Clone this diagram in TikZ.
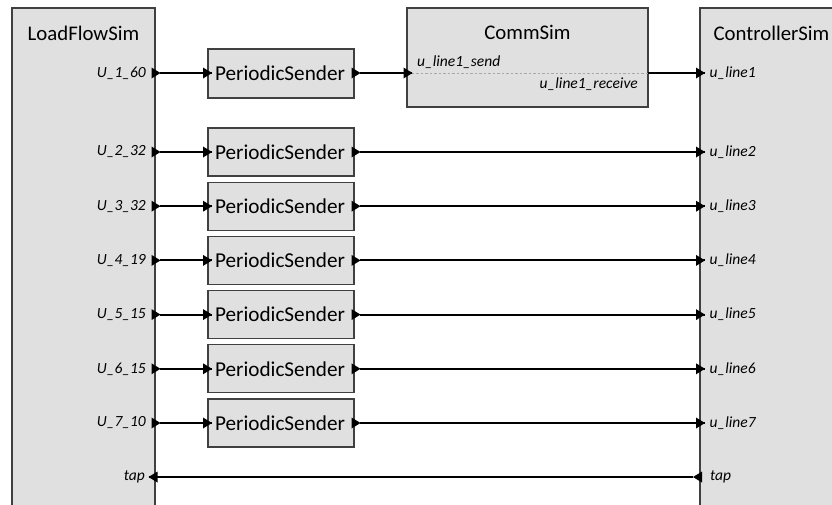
\documentclass[tikz,border=0pt]{standalone}
\usepackage{fontspec}
\setmainfont{Carlito}
\definecolor{boxfill}{HTML}{E0E0E0}
\definecolor{boxline}{HTML}{404040}
\definecolor{dashgray}{HTML}{A8A8A8}
\begin{document}
\begin{tikzpicture}[x=1pt,y=-1pt,
  box/.style={draw=boxline, fill=boxfill, line width=1.2pt, inner sep=0pt, outer sep=0pt, anchor=north west},
  ttl/.style={font=\fontsize{20.8}{24}\selectfont, inner sep=0pt},
  pstext/.style={font=\fontsize{21.2}{24}\selectfont},
  lbl/.style={font=\fontsize{15.5}{18}\selectfont\itshape, inner sep=0pt},
  wire/.style={line width=2pt},
  tri right/.pic={\fill (-4.5,-5.5) -- (4.5,0) -- (-4.5,5.5) -- cycle;},
  tri left/.pic={\fill (4.5,-5.5) -- (-4.5,0) -- (4.5,5.5) -- cycle;}]
\useasboundingbox (0,0) rectangle (832,504);
\begin{scope}
\clip (0,0) rectangle (832,504);
% main simulators
\node[box, minimum width=143pt, minimum height=520pt] (lf) at (12,8) {};
\node[ttl] (lft) at (83.5,33) {LoadFlowSim};
\node[box, minimum width=143pt, minimum height=520pt] (ctl) at (700,8) {};
\node[ttl] (ctlt) at (771.5,33) {ControllerSim};
% CommSim
\node[box, minimum width=241pt, minimum height=99pt] (cs) at (407,8) {};
\node[ttl] (cst) at (527.5,32) {CommSim};
\coordinate (csw) at (407,73);
\coordinate (cse) at (648,73);
\draw[dashgray, line width=0.9pt, dash pattern=on 2.5pt off 2pt] (csw) -- (cse);
\node[lbl, anchor=west] (csl1) at (417,62) {u\_line1\_send};
\node[lbl, anchor=east] (csl2) at (638,84) {u\_line1\_receive};
% row 1
\node[box, minimum width=146pt, minimum height=49pt, anchor=west] (ps1) at (208,73.5) {};
\node[pstext] (ps1t) at (280,73.5) {PeriodicSender};
\node[lbl, anchor=east] (lo1l) at (146,73) {U\_1\_60};
\node[lbl, anchor=west] (ci1l) at (709.5,73) {u\_line1};
\coordinate (lo1) at (160,73);
\coordinate (pi1) at (212,73);
\coordinate (po1) at (360,73);
\coordinate (csi) at (412,73);
\coordinate (ci1) at (705,73);
\draw[wire] (lo1) -- (pi1);
\draw[wire] (po1) -- (csi);
\draw[wire] (cse) -- (ci1);
\pic at (156,73) {tri right};
\pic at (207.5,73) {tri right};
\pic at (356,73) {tri right};
\pic at (408,73) {tri right};
\pic at (700.5,73) {tri right};
% rows 2-7
\foreach \n/\y/\a/\b in {2/152/U\_2\_32/u\_line2, 3/206.2/U\_3\_32/u\_line3, 4/260.4/U\_4\_19/u\_line4, 5/314.6/U\_5\_15/u\_line5, 6/368.8/U\_6\_15/u\_line6, 7/423/U\_7\_10/u\_line7}{
  \node[box, minimum width=146pt, minimum height=48pt, anchor=west] (ps\n) at (208,\y) {};
  \node[pstext] (ps\n t) at (280,\y) {PeriodicSender};
  \node[lbl, anchor=east] (lo\n l) at (146,\y) {\a};
  \node[lbl, anchor=west] (ci\n l) at (709.5,\y) {\b};
  \coordinate (lo\n) at (160,\y);
  \coordinate (pi\n) at (212,\y);
  \coordinate (po\n) at (360,\y);
  \coordinate (ci\n) at (705,\y);
  \draw[wire] (lo\n) -- (pi\n);
  \draw[wire] (po\n) -- (ci\n);
  \pic at (156,\y) {tri right};
  \pic at (207.5,\y) {tri right};
  \pic at (356,\y) {tri right};
  \pic at (700.5,\y) {tri right};
}
% tap
\node[lbl, anchor=east] (ltapl) at (145,477) {tap};
\node[lbl, anchor=west] (ctapl) at (710,477) {tap};
\coordinate (ltap) at (149,477);
\coordinate (ctap) at (693,477);
\draw[wire] (ctap) -- (ltap);
\pic at (153,477) {tri left};
\pic at (697.5,477) {tri left};
\end{scope}
\end{tikzpicture}
\end{document}
